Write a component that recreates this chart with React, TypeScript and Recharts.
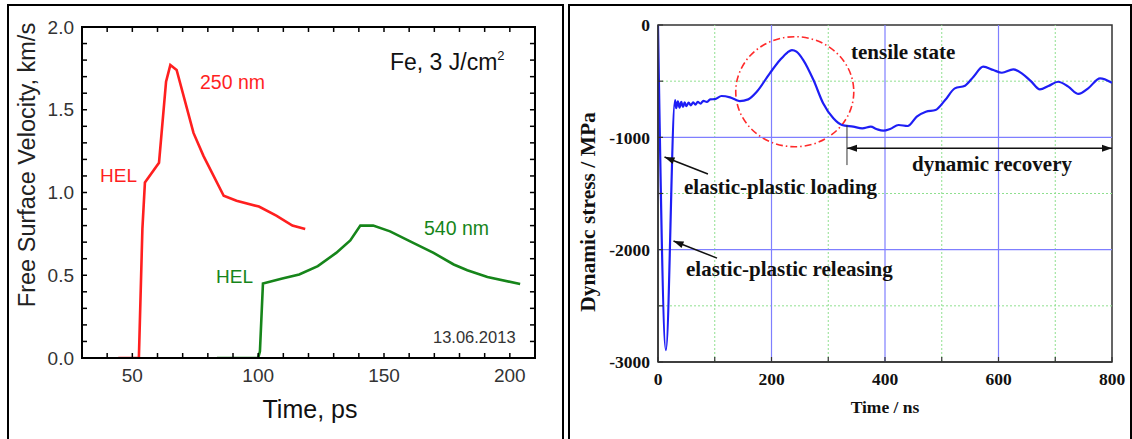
import { LineChart, Line, XAxis, YAxis, ReferenceLine, ReferenceArea } from "recharts";

// left panel: free surface velocity of Fe films
const red250Time = [44.4, 52.6, 54.0, 55.0, 60.6, 63.4, 65.1, 67.6, 74.3, 78.3, 86.3, 91.4, 100.3, 107.2, 113.6, 118.7];
const red250Vel = [0, 0, 0.78, 1.06, 1.18, 1.67, 1.77, 1.74, 1.36, 1.22, 0.98, 0.95, 0.915, 0.86, 0.8, 0.78];
const green540Time = [83.6, 100.0, 100.7, 101.9, 109.6, 116.3, 123.7, 131.0, 136.6, 140.6, 145.7, 152.4, 161.0, 169.7, 177.7, 183.1, 191.1, 204.1];
const green540Vel = [0, 0, 0.04, 0.45, 0.48, 0.505, 0.555, 0.635, 0.71, 0.8, 0.8, 0.765, 0.7, 0.635, 0.565, 0.53, 0.49, 0.447];
const leftXTicks = [30, 40, 50, 60, 70, 80, 90, 100, 110, 120, 130, 140, 150, 160, 170, 180, 190, 200, 210];
const leftYTicks = [0, 0.1, 0.2, 0.3, 0.4, 0.5, 0.6, 0.7, 0.8, 0.9, 1.0, 1.1, 1.2, 1.3, 1.4, 1.5, 1.6, 1.7, 1.8, 1.9, 2.0];

// right panel: dynamic stress
const stressTime = [0, 14, 30, 32, 35, 38, 41, 44, 47, 50, 54, 58, 62, 66, 70, 75, 80, 86, 92, 100, 112, 127, 144, 159, 174, 197, 215, 228, 236, 244, 256, 274, 291, 309, 324, 344, 360, 375, 385, 397, 409, 424, 440, 456, 472, 489, 506, 523, 541, 556, 573, 591, 606, 626, 641, 657, 673, 688, 705, 723, 741, 758, 779, 800];
const stressVal = [0, -2894, -668, -740, -680, -735, -685, -730, -688, -722, -690, -715, -688, -710, -685, -700, -675, -685, -662, -660, -632, -644, -677, -662, -594, -430, -312, -245, -223, -237, -312, -490, -697, -831, -890, -905, -920, -905, -926, -941, -926, -890, -899, -816, -772, -757, -668, -564, -540, -460, -371, -401, -425, -395, -430, -500, -573, -543, -505, -549, -614, -564, -475, -514];
const rightXTicks = [0, 100, 200, 300, 400, 500, 600, 700, 800];
const rightYTicks = [-3000, -2500, -2000, -1500, -1000, -500, 0];
const blueGridX = [200, 400, 600];
const blueGridY = [-1000, -2000];
const greenGridX = [100, 300, 500, 700];
const greenGridY = [-500, -1500, -2500];

const red250 = red250Time.map((t, i) => ({ t, v: red250Vel[i] }));
const green540 = green540Time.map((t, i) => ({ t, v: green540Vel[i] }));
const stress = stressTime.map((t, i) => ({ t, s: stressVal[i] }));

const SANS = "'Liberation Sans', Arial, sans-serif";
const SERIF = "'Liberation Serif', 'Times New Roman', serif";

const arrowHead = (tx: number, ty: number, fx: number, fy: number) => {
  const a = Math.atan2(ty - fy, tx - fx);
  const L = 10;
  const W = 3.5;
  const bx = tx - L * Math.cos(a);
  const by = ty - L * Math.sin(a);
  const px = -Math.sin(a) * W;
  const py = Math.cos(a) * W;
  return `${tx},${ty} ${bx + px},${by + py} ${bx - px},${by - py}`;
};

const arrowShape = (both: boolean) => (p: any) => {
  const { x1, y1, x2, y2 } = p;
  return (
    <g>
      <line x1={x1} y1={y1} x2={x2} y2={y2} stroke="#111" strokeWidth={1.5} />
      <polygon points={arrowHead(x2, y2, x1, y1)} fill="#111" />
      {both && <polygon points={arrowHead(x1, y1, x2, y2)} fill="#111" />}
    </g>
  );
};

// plot box drawn from a reference area spanning the whole domain
const boxShape = (color: string, w: number) => (p: any) => (
  <rect x={p.x} y={p.y} width={p.width} height={p.height} fill="none" stroke={color} strokeWidth={w} />
);

// short inward tick, drawn from the lower/left end of a tiny segment
const tickShape = (p: any) => (
  <line x1={p.x1} y1={p.y1} x2={p.x2} y2={p.y2} stroke="#000" strokeWidth={1.5} />
);

const ellipseShape = (p: any) => (
  <ellipse
    cx={p.x + p.width / 2}
    cy={p.y + p.height / 2}
    rx={p.width / 2}
    ry={p.height / 2}
    fill="none"
    stroke="#ff2a2a"
    strokeWidth={1.6}
    strokeDasharray="7 3 1.5 3"
  />
);

const leftTick = { fontFamily: SANS, fontSize: 19, fill: "#333" };
const rightTick = { fontFamily: SERIF, fontSize: 17.5, fontWeight: 700, fill: "#111" };

export default function App() {
  return (
    <div style={{ position: "absolute", left: 0, top: 0, width: 1132, height: 439, background: "#fff", overflow: "hidden" }}>
      <div style={{ position: "absolute", left: 7, top: 4, width: 553, height: 460, border: "2px solid #000" }} />
      <div style={{ position: "absolute", left: 568, top: 4, width: 560, height: 460, border: "2px solid #000" }} />

      <div style={{ position: "absolute", left: 0, top: 0 }}>
        <LineChart width={565} height={439} margin={{ top: 27, right: 30, bottom: 41, left: 22 }}>
          <XAxis
            dataKey="t"
            type="number"
            domain={[30, 210]}
            ticks={leftXTicks}
            tickFormatter={(v: number) => (v % 50 === 0 ? String(v) : "")}
            tickSize={-5}
            tickMargin={16}
            height={40}
            allowDataOverflow
            axisLine={{ stroke: "#000", strokeWidth: 2 }}
            tickLine={{ stroke: "#000", strokeWidth: 1.5 }}
            tick={leftTick}
            interval={0}
          />
          <YAxis
            type="number"
            domain={[0, 2]}
            ticks={leftYTicks}
            tickFormatter={(v: number) => (Math.round(v * 10) % 5 === 0 ? v.toFixed(1) : "")}
            tickSize={-5}
            tickMargin={13}
            width={60}
            allowDataOverflow
            axisLine={{ stroke: "#000", strokeWidth: 2 }}
            tickLine={{ stroke: "#000", strokeWidth: 1.5 }}
            tick={leftTick}
            interval={0}
          />
          <ReferenceArea x1={30} x2={210} y1={0} y2={2} ifOverflow="visible" shape={boxShape("#000", 2)} />
          {leftXTicks.map((t) => (
            <ReferenceLine key={"tx" + t} segment={[{ x: t, y: 1.97 }, { x: t, y: 1.999 }]} shape={tickShape} ifOverflow="visible" />
          ))}
          {leftYTicks.map((v) => (
            <ReferenceLine key={"ry" + v} segment={[{ x: 208, y: v }, { x: 209.99, y: v }]} shape={tickShape} ifOverflow="visible" />
          ))}
          <Line data={red250} dataKey="v" type="linear" stroke="#ff1f1f" strokeWidth={2.6} dot={false} isAnimationActive={false} />
          <Line data={green540} dataKey="v" type="linear" stroke="#16851a" strokeWidth={2.6} dot={false} isAnimationActive={false} />
        </LineChart>
      </div>

      <div style={{ position: "absolute", left: 565, top: 0 }}>
        <LineChart width={567} height={439} margin={{ top: 25, right: 20, bottom: 37, left: 13 }}>
          {greenGridX.map((x) => (
            <ReferenceLine key={"gx" + x} x={x} stroke="#8fe08f" strokeDasharray="2 2" strokeWidth={1} />
          ))}
          {greenGridY.map((y) => (
            <ReferenceLine key={"gy" + y} y={y} stroke="#8fe08f" strokeDasharray="2 2" strokeWidth={1} />
          ))}
          {blueGridX.map((x) => (
            <ReferenceLine key={"bx" + x} x={x} stroke="#7f7fff" strokeWidth={1.2} />
          ))}
          {blueGridY.map((y) => (
            <ReferenceLine key={"by" + y} y={y} stroke="#7f7fff" strokeWidth={1.2} />
          ))}
          <XAxis
            dataKey="t"
            type="number"
            domain={[0, 800]}
            ticks={rightXTicks}
            tickFormatter={(v: number) => (v % 200 === 0 ? String(v) : "")}
            tickSize={-5}
            tickMargin={16}
            height={40}
            allowDataOverflow
            axisLine={{ stroke: "#333", strokeWidth: 1.5 }}
            tickLine={{ stroke: "#333", strokeWidth: 1.2 }}
            tick={rightTick}
            interval={0}
          />
          <YAxis
            type="number"
            domain={[-3000, 0]}
            ticks={rightYTicks}
            tickFormatter={(v: number) => (v % 1000 === 0 ? String(v) : "")}
            tickSize={-5}
            tickMargin={13}
            width={80}
            allowDataOverflow
            axisLine={{ stroke: "#333", strokeWidth: 1.5 }}
            tickLine={{ stroke: "#333", strokeWidth: 1.2 }}
            tick={rightTick}
            interval={0}
          />
          <ReferenceArea x1={0} x2={800} y1={-3000} y2={0} ifOverflow="visible" shape={boxShape("#333", 1.5)} />
          <ReferenceArea x1={137} x2={345} y1={-1084} y2={-104} shape={ellipseShape} />
          <Line data={stress} dataKey="s" type="monotone" stroke="#1e1ef5" strokeWidth={2.2} dot={false} isAnimationActive={false} />
          <ReferenceLine segment={[{ x: 88, y: -1327 }, { x: 11.5, y: -1175 }]} shape={arrowShape(false)} />
          <ReferenceLine segment={[{ x: 104, y: -2075 }, { x: 27.3, y: -1923 }]} shape={arrowShape(false)} />
          <ReferenceLine segment={[{ x: 333, y: -1098 }, { x: 800, y: -1098 }]} shape={arrowShape(true)} />
          <ReferenceLine segment={[{ x: 333, y: -891 }, { x: 333, y: -1247 }]} stroke="#333" strokeWidth={1} />
        </LineChart>
      </div>

      <svg width={1132} height={439} style={{ position: "absolute", left: 0, top: 0, pointerEvents: "none" }}>
        <g fontFamily={SANS}>
          <text x={27} y={165} transform="rotate(-90 27 165)" textAnchor="middle" dominantBaseline="central" fontSize={23.5} fill="#222">
            Free Surface Velocity, km/s
          </text>
          <text x={310} y={418} textAnchor="middle" fontSize={25} fill="#111">Time, ps</text>
          <text x={390} y={70} fontSize={23} fill="#111">
            Fe, 3 J/cm<tspan dy={-10} fontSize={13}>2</tspan>
          </text>
          <text x={200} y={89} fontSize={19.5} fill="#ff1f1f">250 nm</text>
          <text x={100} y={182} fontSize={19} fill="#ff1f1f">HEL</text>
          <text x={424} y={235} fontSize={19.5} fill="#16851a">540 nm</text>
          <text x={216} y={283} fontSize={19} fill="#16851a">HEL</text>
          <text x={433} y={343} fontSize={16.5} fill="#333">13.06.2013</text>
        </g>
        <g fontFamily={SERIF} fontWeight={700} fill="#111">
          <text x={588} y={212} transform="rotate(-90 588 212)" textAnchor="middle" dominantBaseline="central" fontSize={21.5}>
            Dynamic stress / MPa
          </text>
          <text x={885} y={413} textAnchor="middle" fontSize={17.5}>Time / ns</text>
          <text x={851} y={59} fontSize={21}>tensile state</text>
          <text x={912} y={171} fontSize={21}>dynamic recovery</text>
          <text x={684} y={194} fontSize={21}>elastic-plastic loading</text>
          <text x={686} y={276} fontSize={21}>elastic-plastic releasing</text>
        </g>
      </svg>
    </div>
  );
}
